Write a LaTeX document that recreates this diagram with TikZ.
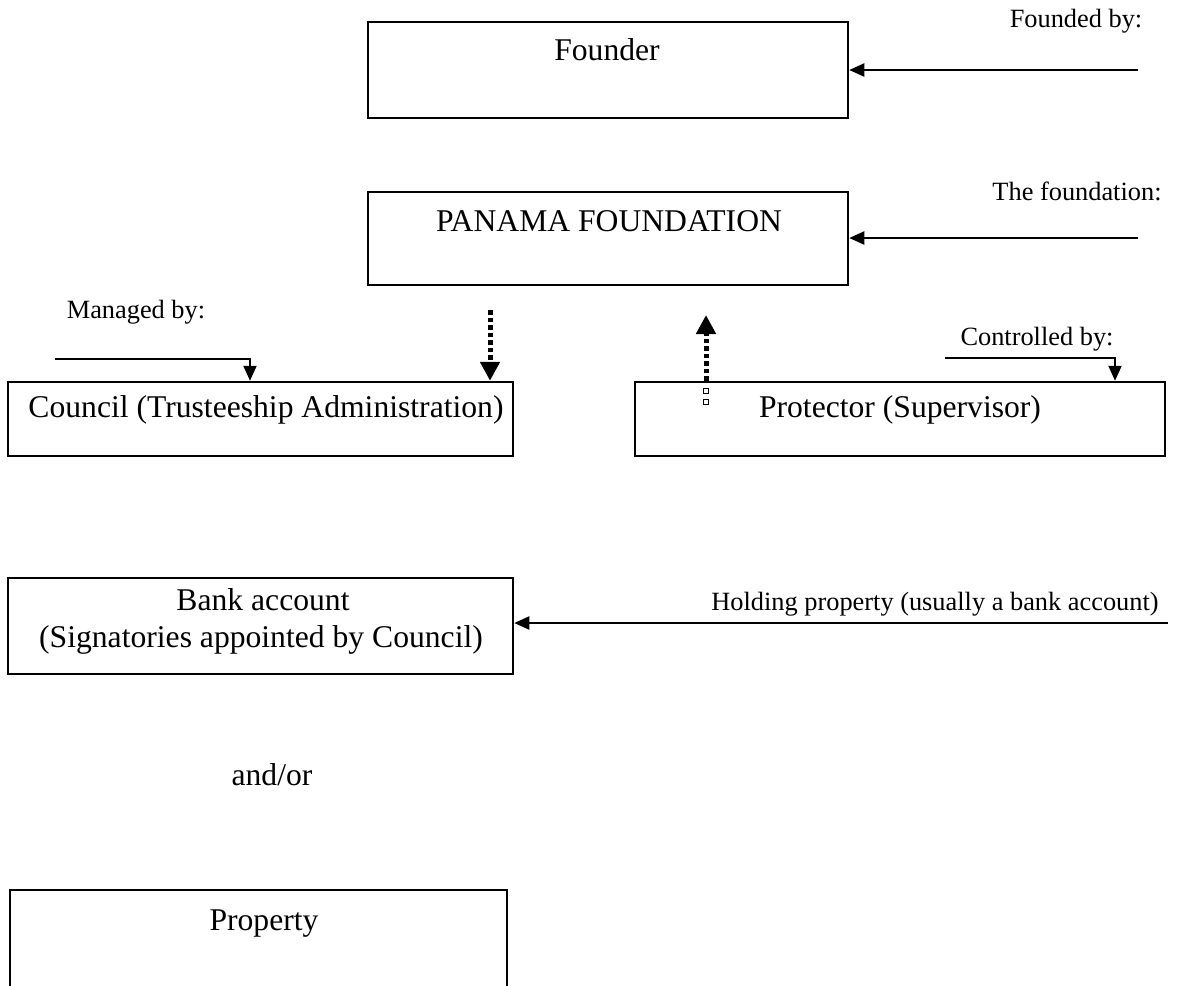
\documentclass[tikz,border=0pt]{standalone}
\usepackage{fontspec}
\setmainfont{Liberation Serif}
\usetikzlibrary{arrows.meta}
\begin{document}
\begin{tikzpicture}[x=0.1mm,y=-0.1mm,
  box/.style={draw,line width=0.25mm,inner sep=0pt},
  big/.style={font=\fontsize{9}{11}\selectfont,inner sep=0pt},
  small/.style={font=\fontsize{7.5}{9}\selectfont,inner sep=0pt},
  arr/.style={line width=0.2mm,-{Triangle[width=1.3mm,length=1.5mm]}},
  dotarr/.style={line width=0.5mm,dash pattern=on 0.45mm off 0.3mm,-{Triangle[width=1.9mm,length=1.9mm]}},
  hollow/.style={draw,line width=0.12mm,fill=white,minimum size=0.45mm,inner sep=0pt}]
\useasboundingbox (0,0) rectangle (1177,985);
\clip (0,0) rectangle (1177,985);

% boxes
\node[box,minimum width=48mm,minimum height=9.6mm] (founder) at (608,70) {};
\node[box,minimum width=48mm,minimum height=9.3mm] (panama) at (608,238.5) {};
\node[box,minimum width=50.5mm,minimum height=7.4mm] (council) at (260.5,419) {};
\node[box,minimum width=53mm,minimum height=7.4mm] (protector) at (900,419) {};
\node[box,minimum width=50.5mm,minimum height=9.6mm] (bank) at (260.5,626) {};
\node[box,minimum width=49.7mm,minimum height=14mm] (property) at (258.5,960) {};

% box texts
\node[big] (tfounder) at (607,50) {Founder};
\node[big] (tpanama) at (609,221) {PANAMA FOUNDATION};
\node[big] (tcouncil) at (266,410) {Council (Trusteeship Administration)};
\node[big] (tprotector) at (900,410) {Protector (Supervisor)};
\node[big] (tbank1) at (263,600) {Bank account};
\node[big] (tbank2) at (261,640) {(Signatories appointed by Council)};
\node[big] (tproperty) at (264,924) {Property};
\node[big] (andor) at (272,775) {and/or};

% labels
\node[small] (lfounded) at (1076,21) {Founded by:};
\node[small] (lfoundation) at (1077,191) {The foundation:};
\node[small] (lmanaged) at (136,312) {Managed by:};
\node[small] (lcontrolled) at (1037,339) {Controlled by:};
\node[small] (lholding) at (935,604) {Holding property (usually a bank account)};

% connector end points
\coordinate (a1) at (1138,70);
\coordinate (a2) at (1138,238);
\coordinate (a3) at (55,359);
\coordinate (a3c) at (250,359);
\coordinate (a4) at (490,310);
\coordinate (a5) at (706,315);
\coordinate (a6) at (945,358);
\coordinate (a6c) at (1115,358);
\coordinate (a7) at (1168,623);

% connectors
\draw[arr] (a1) -- (a1 -| founder.east);
\draw[arr] (a2) -- (a2 -| panama.east);
\draw[arr] (a3) -- (a3c) -- (a3c |- council.north);
\draw[dotarr] (a4) -- (a4 |- council.north);
\draw[dotarr] (a5 |- protector.north) -- (a5);
\draw[arr] (a6) -- (a6c) -- (a6c |- protector.north);
\draw[arr] (a7) -- (a7 -| bank.east);

% hollow dots inside protector box
\node[hollow] (h1) at (706,391) {};
\node[hollow] (h2) at (706,402) {};
\end{tikzpicture}
\end{document}
